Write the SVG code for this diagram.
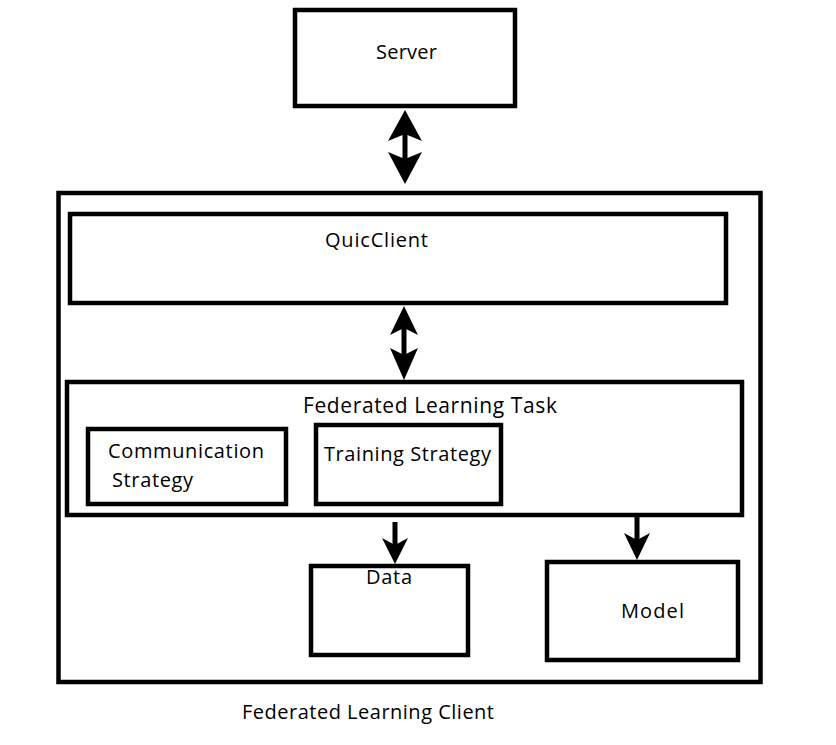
<svg xmlns="http://www.w3.org/2000/svg" width="836" height="745" viewBox="0 0 836 745">
<style>
.box{fill:none;stroke:#000;stroke-width:4.5}
.t{font-family:"Open Sans","Noto Sans","Liberation Sans",sans-serif;font-size:20px;fill:#000}
.shaft{stroke:#000;stroke-width:5;fill:none}
.head{fill:#000;stroke:none}
</style>
<rect width="836" height="745" fill="#fff"/>
<g id="client">
<rect class="box" x="58.5" y="193" width="702" height="489"/>
<text class="t" x="242" y="719" textLength="252">Federated Learning Client</text>
</g>
<g id="server">
<rect class="box" x="295" y="10" width="220" height="96"/>
<text class="t" x="376" y="59" textLength="61">Server</text>
</g>
<g id="quicclient">
<rect class="box" x="70" y="214" width="656" height="89"/>
<text class="t" x="325" y="247" textLength="103">QuicClient</text>
</g>
<g id="flt">
<rect class="box" x="67" y="382" width="675" height="133"/>
<text class="t" x="303" y="413" textLength="254" style="font-size:21px">Federated Learning Task</text>
</g>
<g id="comm">
<rect class="box" x="88" y="429" width="198" height="75"/>
<text class="t" x="108" y="458" textLength="156">Communication</text>
<text class="t" x="112" y="487" textLength="81">Strategy</text>
</g>
<g id="training">
<rect class="box" x="316" y="425" width="185" height="79"/>
<text class="t" x="324" y="461" textLength="167">Training Strategy</text>
</g>
<g id="data">
<rect class="box" x="311" y="566" width="157" height="89"/>
<text class="t" x="366" y="584" textLength="46">Data</text>
</g>
<g id="model">
<rect class="box" x="547" y="562" width="191" height="98"/>
<text class="t" x="621" y="618" textLength="63">Model</text>
</g>
<g id="connectors">
<line class="shaft" x1="405" y1="130" x2="405" y2="162"/>
<path class="head" d="M405,110 L388,141 L405,134 L422,141 Z"/>
<path class="head" d="M405,184 L388,152 L405,159 L422,152 Z"/>
<line class="shaft" x1="404" y1="325" x2="404" y2="360"/>
<path class="head" d="M404,306 L390,335 L404,328 L418,335 Z"/>
<path class="head" d="M404,380 L390,348 L404,355 L418,348 Z"/>
<line class="shaft" x1="395" y1="522" x2="395" y2="550"/>
<path class="head" d="M395,564 L382,538 L395,545 L408,538 Z"/>
<line class="shaft" x1="637" y1="517" x2="637" y2="545"/>
<path class="head" d="M637,560 L624,533 L637,540 L650,533 Z"/>
</g>
</svg>
